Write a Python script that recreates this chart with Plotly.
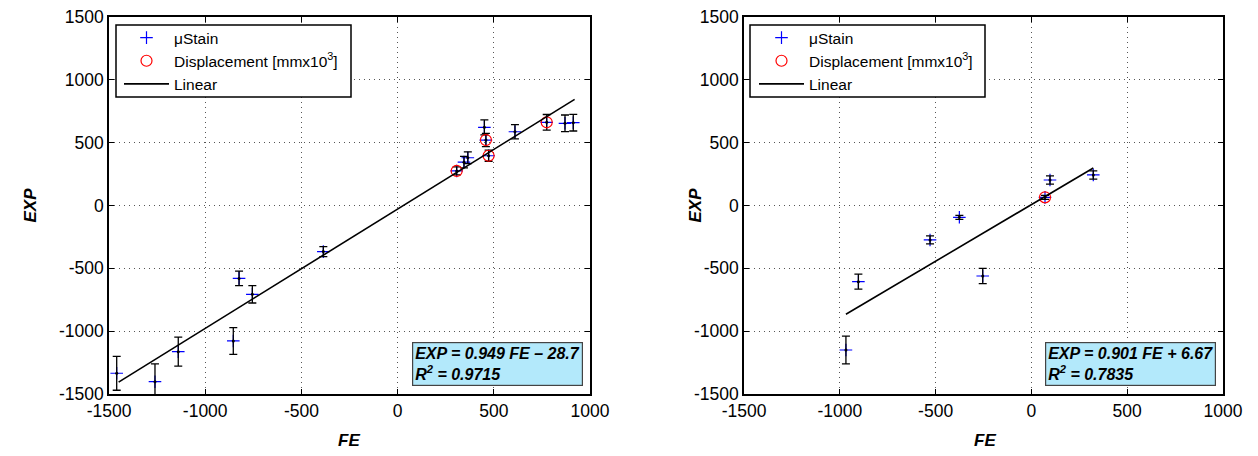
import plotly.graph_objects as go

# ---------------- data ----------------
# Left panel
left_strain_fe = [-1460, -1261, -1140, -854, -824, -755, -386, 307, 345, 365, 451, 459, 473, 610, 775, 870, 913]
left_strain_exp = [-1335, -1402, -1163, -1078, -580, -707, -367, 275, 345, 380, 622, 521, 396, 587, 662, 654, 659]
left_strain_err = [135, 141, 115, 106, 57, 69, 40, 32, 46, 46, 60, 53, 44, 57, 62, 66, 66]
left_disp_fe = [307, 459, 473, 775]
left_disp_exp = [275, 521, 396, 662]
left_line_fe = [-1450, 920]
left_line_exp = [-1405, 845]
left_eq = ["EXP = 0.949 FE \u2013 28.7", "R<sup>2</sup> = 0.9715"]

# Right panel
right_strain_fe = [-968, -903, -529, -376, -254, 71, 97, 323]
right_strain_exp = [-1150, -606, -274, -94, -561, 65, 203, 243]
right_strain_err = [110, 60, 32, 16, 60, 16, 33, 33]
right_disp_fe = [71]
right_disp_exp = [65]
right_line_fe = [-968, 323]
right_line_exp = [-865, 298]
right_eq = ["EXP = 0.901 FE + 6.67", "R<sup>2</sup> = 0.7835"]

x_ticks = [-1500, -1000, -500, 0, 500, 1000]
x_tick_labels = ["-1500", "-1000", "-500", "0", "500", "1000"]
y_ticks = [-1500, -1000, -500, 0, 500, 1000, 1500]
y_tick_labels = ["-1500", "-1000", "-500", "0", "500", "1000", "1500"]

names = ["\u03bcStain", "Displacement [mmx10<sup>3</sup>]", "Linear"]

# The page body has an 8 px margin, so the figure is drawn 8 px in from
# the top-left corner of the 1258x456 window.
OFF = 8
W, H = 1258 - OFF, 456 - OFF
FONT = "Liberation Sans, Arial, sans-serif"


def px(xp):
    return (xp - OFF) / W


def py(yp):
    return 1 - (yp - OFF) / H


fig = go.Figure()


def add_panel(xa, ya, legend, sfe, sexp, serr, dfe, dexp, lfe, lexp):
    # blue crosses (legend entry)
    fig.add_trace(go.Scatter(
        x=sfe, y=sexp, mode="markers", name=names[0], legend=legend,
        xaxis=xa, yaxis=ya,
        marker=dict(symbol="cross-thin", size=9, color="blue",
                    line=dict(color="blue", width=1.2)),
    ))
    # black error bars drawn over the crosses
    fig.add_trace(go.Scatter(
        x=sfe, y=sexp, mode="markers", showlegend=False, legend=legend,
        xaxis=xa, yaxis=ya, hoverinfo="skip",
        marker=dict(symbol="circle", size=3, color="black"),
        error_y=dict(type="data", array=serr, visible=True, color="black",
                     thickness=1.3, width=4),
    ))
    fig.add_trace(go.Scatter(
        x=dfe, y=dexp, mode="markers", name=names[1], legend=legend,
        xaxis=xa, yaxis=ya,
        marker=dict(symbol="circle-open", size=11, color="red",
                    line=dict(color="red", width=1.2)),
    ))
    fig.add_trace(go.Scatter(
        x=lfe, y=lexp, mode="lines", name=names[2], legend=legend,
        xaxis=xa, yaxis=ya,
        line=dict(color="black", width=1.6),
    ))


add_panel("x", "y", "legend", left_strain_fe, left_strain_exp, left_strain_err,
          left_disp_fe, left_disp_exp, left_line_fe, left_line_exp)
add_panel("x2", "y2", "legend2", right_strain_fe, right_strain_exp, right_strain_err,
          right_disp_fe, right_disp_exp, right_line_fe, right_line_exp)

axis_common = dict(
    showline=True, linecolor="black", linewidth=1.6, mirror="allticks",
    ticks="inside", ticklen=5, tickcolor="black", tickwidth=1,
    showgrid=True, gridcolor="#555", griddash="1px,4px", gridwidth=1,
    zeroline=False, automargin=False, ticklabeloverflow="allow",
    tickfont=dict(family=FONT, size=17.5, color="black"),
)

L_x0, L_x1 = px(109), px(590)
R_x0, R_x1 = px(744), px(1223)
Y0, Y1 = py(394), py(17)

title_font = dict(family=FONT, size=17, color="black")

legend_common = dict(
    y=py(21), xanchor="left", yanchor="top",
    bgcolor="rgba(0,0,0,0)", borderwidth=0,
    font=dict(family=FONT, size=15.5, color="black"), tracegroupgap=0,
    itemwidth=45,
)

fig.update_layout(
    width=W, height=H,
    margin=dict(l=0, r=0, t=0, b=0),
    paper_bgcolor="white", plot_bgcolor="white",
    font=dict(family=FONT, size=16, color="black"),
    xaxis=dict(domain=[L_x0, L_x1], range=[-1500, 1000], tickvals=x_ticks,
               ticktext=x_tick_labels, anchor="y", **axis_common),
    yaxis=dict(domain=[Y0, Y1], range=[-1500, 1500], tickvals=y_ticks,
               ticktext=y_tick_labels, anchor="x", **axis_common),
    xaxis2=dict(domain=[R_x0, R_x1], range=[-1500, 1000], tickvals=x_ticks,
                ticktext=x_tick_labels, anchor="y2", **axis_common),
    yaxis2=dict(domain=[Y0, Y1], range=[-1500, 1500], tickvals=y_ticks,
                ticktext=y_tick_labels, anchor="x2", **axis_common),
    showlegend=True,
    legend=dict(x=px(119), **legend_common),
    legend2=dict(x=px(754), **legend_common),
)

# legend frames (white boxes with black border, behind the legend text)
shapes = []
for x0, x1 in [(116, 351), (750, 985)]:
    shapes.append(dict(type="rect", xref="paper", yref="paper",
                       x0=px(x0), x1=px(x1), y0=py(97), y1=py(25),
                       fillcolor="white", line=dict(color="black", width=1.5),
                       layer="above"))

annotations = []
# axis titles
for cx in [px(349), px(985)]:
    annotations.append(dict(x=cx, y=py(440), xref="paper", yref="paper",
                            xanchor="center", yanchor="middle",
                            text="<b><i>FE</i></b>", showarrow=False, font=title_font))
for cx in [px(30), px(695)]:
    annotations.append(dict(x=cx, y=(Y0 + Y1) / 2, xref="paper", yref="paper",
                            xanchor="center", yanchor="middle",
                            text="<b><i>EXP</i></b>", showarrow=False, font=title_font,
                            textangle=-90))

# equation boxes
for eq, xr in [(left_eq, px(583)), (right_eq, px(1216))]:
    annotations.append(dict(
        x=xr, y=py(386), xref="paper", yref="paper",
        xanchor="right", yanchor="bottom", align="left",
        text="<b><i>" + eq[0] + "</i></b><br><b><i>" + eq[1] + "</i></b>",
        showarrow=False, bgcolor="#b3e9fb", bordercolor="#444",
        borderwidth=1.2, borderpad=2,
        font=dict(family=FONT, size=16, color="black"),
    ))

fig.update_layout(annotations=annotations, shapes=shapes)

fig.write_html("out.html")
